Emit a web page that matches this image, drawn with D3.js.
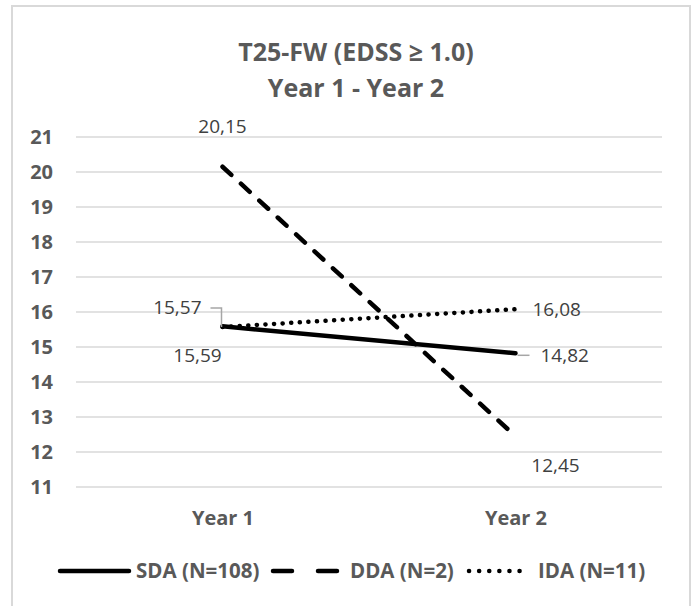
<!DOCTYPE html>
<html>
<head>
<meta charset="utf-8">
<script src="https://cdn.jsdelivr.net/npm/d3@7"></script>
<style>
  body { margin: 0; background: #fff; }
  text { font-family: "Open Sans", sans-serif; }
</style>
</head>
<body>
<div id="chart-area"></div>
<script>
const categories = ['Year 1', 'Year 2'];
const sdaValues = [15.59, 14.82];
const ddaValues = [20.15, 12.45];
const idaValues = [15.57, 16.08];
const yTicks = [11, 12, 13, 14, 15, 16, 17, 18, 19, 20, 21];
const seriesNames = ['SDA (N=108)', 'DDA (N=2)', 'IDA (N=11)'];

const W = 696, H = 606;
const margin = {left: 76, right: 34, top: 137, bottom: 119};
const width = W - margin.left - margin.right;
const height = H - margin.top - margin.bottom;

const svg = d3.select('#chart-area')
  .append('svg')
    .attr('width', W)
    .attr('height', H);

// outer border
svg.append('rect')
  .attr('x', 12).attr('y', 6)
  .attr('width', 678).attr('height', 620)
  .attr('fill', 'none')
  .attr('stroke', '#d9d9d9')
  .attr('stroke-width', 2);

// title
const titleLines = ['T25-FW (EDSS ≥ 1.0)', 'Year 1 - Year 2'];
titleLines.forEach((t, i) => {
  svg.append('text')
    .attr('x', 356).attr('y', 61 + i * 36)
    .attr('text-anchor', 'middle')
    .attr('font-size', '25px').attr('font-weight', 'bold')
    .attr('fill', '#595959')
    .text(t);
});

const g = svg.append('g')
  .attr('transform', `translate(${margin.left}, ${margin.top})`);

const x = d3.scalePoint()
  .domain(categories)
  .range([0, width])
  .padding(0.5);

const y = d3.scaleLinear()
  .domain([11, 21])
  .range([height, 0]);

// gridlines
g.append('g')
  .selectAll('line')
  .data(yTicks)
  .enter().append('line')
    .attr('x1', 0).attr('x2', width)
    .attr('y1', d => y(d)).attr('y2', d => y(d))
    .attr('stroke', '#d9d9d9')
    .attr('stroke-width', 1.5);

// y axis labels
const yAxisCall = d3.axisLeft(y).tickValues(yTicks).tickSize(0).tickPadding(23);
g.append('g')
  .attr('class', 'y-axis')
  .call(yAxisCall)
  .call(a => a.select('.domain').remove())
  .selectAll('text')
    .attr('font-size', '20px').attr('font-weight', 'bold')
    .attr('fill', '#595959')
    .style('font-family', '"Open Sans", sans-serif');

// x axis labels
const xAxisCall = d3.axisBottom(x).tickSize(0).tickPadding(24);
g.append('g')
  .attr('class', 'x-axis')
  .attr('transform', `translate(0, ${height})`)
  .call(xAxisCall)
  .call(a => a.select('.domain').remove())
  .selectAll('text')
    .attr('font-size', '20px').attr('font-weight', 'bold')
    .attr('fill', '#595959')
    .style('font-family', '"Open Sans", sans-serif');

const line = d3.line()
  .x((d, i) => x(categories[i]))
  .y(d => y(d));

const styles = [
  {vals: sdaValues, dash: null},
  {vals: ddaValues, dash: '12,13'},
  {vals: idaValues, dash: '0.1,8.5'}
];

styles.forEach(s => {
  g.append('path')
    .datum(s.vals)
    .attr('d', line)
    .attr('fill', 'none')
    .attr('stroke', '#000')
    .attr('stroke-width', 4.5)
    .attr('stroke-linecap', 'round')
    .attr('stroke-dasharray', s.dash);
});

// data labels
const fmt = v => d3.format('.2f')(v).replace('.', ',');
const labelFill = '#404040';
function label(txt, lx, ly, anchor) {
  g.append('text')
    .attr('x', lx).attr('y', ly)
    .attr('text-anchor', anchor)
    .attr('font-size', '19px')
    .attr('fill', labelFill)
    .text(txt);
}
const x1 = x(categories[0]), x2 = x(categories[1]);
label(fmt(ddaValues[0]), x1, y(ddaValues[0]) - 34, 'middle');
label(fmt(idaValues[0]), x1 - 21, y(idaValues[0]) - 13, 'end');
label(fmt(sdaValues[0]), x1 - 25, y(sdaValues[0]) + 36, 'middle');
label(fmt(idaValues[1]), x2 + 17, y(idaValues[1]) + 7, 'start');
label(fmt(sdaValues[1]), x2 + 25, y(sdaValues[1]) + 9, 'start');
label(fmt(ddaValues[1]), x2 + 40, y(ddaValues[1]) + 36, 'middle');

// leader lines
g.append('path')
  .attr('d', `M${x1 - 12},${y(idaValues[0]) - 19}H${x1 - 1}V${y(idaValues[0])}`)
  .attr('fill', 'none').attr('stroke', '#a6a6a6').attr('stroke-width', 1.5);
g.append('path')
  .attr('d', `M${x2 + 2},${y(sdaValues[1]) + 2}H${x2 + 14}`)
  .attr('fill', 'none').attr('stroke', '#a6a6a6').attr('stroke-width', 1.5);

// legend
const legendItems = [
  {name: seriesNames[0], dash: null, x0: 60, x1: 129, tx: 136},
  {name: seriesNames[1], dash: '19,26', x0: 273, x1: 338, tx: 350},
  {name: seriesNames[2], dash: '0.1,10', x0: 469, x1: 525, tx: 538}
];
const legend = svg.append('g').attr('class', 'legend');
legendItems.forEach(it => {
  legend.append('line')
    .attr('x1', it.x0).attr('x2', it.x1)
    .attr('y1', 571).attr('y2', 571)
    .attr('stroke', '#000')
    .attr('stroke-width', 4.5)
    .attr('stroke-linecap', 'round')
    .attr('stroke-dasharray', it.dash);
  legend.append('text')
    .attr('x', it.tx).attr('y', 578)
    .attr('font-size', '20.5px').attr('font-weight', 'bold')
    .attr('fill', '#595959')
    .text(it.name);
});
</script>
</body>
</html>
